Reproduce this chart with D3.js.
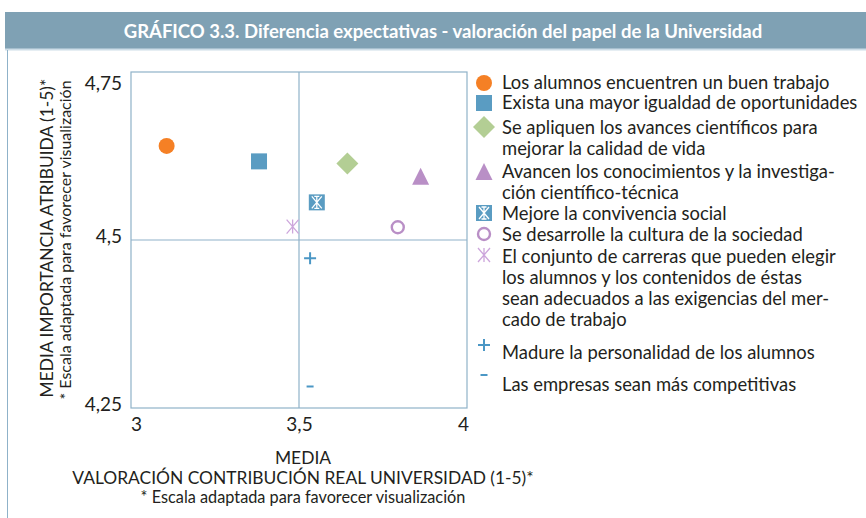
<!DOCTYPE html>
<html>
<head>
<meta charset="utf-8">
<script src="https://cdn.jsdelivr.net/npm/d3@7"></script>
<style>
  body { margin: 0; background: #fff; }
  svg text { font-family: Lato, "Open Sans", sans-serif; fill: #231f20; }
</style>
</head>
<body>
<div id="chart"></div>
<script>
// categories (legend lines as they are broken in the original)
const categories = [
  ['Los alumnos encuentren un buen trabajo'],
  ['Exista una mayor igualdad de oportunidades'],
  ['Se apliquen los avances científicos para', 'mejorar la calidad de vida'],
  ['Avancen los conocimientos y la investiga-', 'ción científico-técnica'],
  ['Mejore la convivencia social'],
  ['Se desarrolle la cultura de la sociedad'],
  ['El conjunto de carreras que pueden elegir', 'los alumnos y los contenidos de éstas', 'sean adecuados a las exigencias del mer-', 'cado de trabajo'],
  ['Madure la personalidad de los alumnos'],
  ['Las empresas sean más competitivas']
];

// valoración contribución real (x) / importancia atribuida (y)
const xValues = [3.106, 3.381, 3.644, 3.862, 3.553, 3.794, 3.481, 3.533, 3.533];
const yValues = [4.640, 4.617, 4.614, 4.594, 4.556, 4.519, 4.520, 4.473, 4.282];

const xTicks = [3, 3.5, 4];
const yTicks = [4.25, 4.5, 4.75];

const title = 'GRÁFICO 3.3. Diferencia expectativas - valoración del papel de la Universidad';

//////////////////////////////////////////////////////////////

const width = 866;
const height = 518;

const markers = ['circle', 'square', 'diamond', 'triangle', 'boxx', 'ring', 'star', 'plus', 'minus'];
const colors = ['#f58025', '#5a9cc2', '#b3ce94', '#b98fc6', '#5a9cc2', '#b98fc6', '#cda6dc', '#4b97c5', '#4b97c5'];

const x = d3.scaleLinear().domain([3, 4]).range([131, 467]);
const y = d3.scaleLinear().domain([4.25, 4.75]).range([408, 72]);
const fmt = (d) => String(d).replace('.', ',');

const svg = d3.select('#chart').append('svg')
  .attr('width', width)
  .attr('height', height);

// header bar
svg.append('rect')
  .attr('x', 5).attr('y', 12)
  .attr('width', width - 5).attr('height', 37)
  .attr('fill', '#7fa1b4');
svg.append('line')
  .attr('x1', 5).attr('x2', width)
  .attr('y1', 49.5).attr('y2', 49.5)
  .attr('stroke', '#cddde7').attr('stroke-width', 2);
svg.append('text')
  .attr('x', 443).attr('y', 37.5)
  .attr('text-anchor', 'middle')
  .style('font-size', '18.5px')
  .style('font-weight', 'bold')
  .style('fill', '#fff')
  .text(title);

// frame left edge
svg.append('line')
  .attr('x1', 7.5).attr('x2', 7.5)
  .attr('y1', 50).attr('y2', height)
  .attr('stroke', '#8fb2c9');

// plot box + cross
const axisColor = '#8fb2c9';
const plot = svg.append('g');
plot.append('rect')
  .attr('x', x(3)).attr('y', y(4.75))
  .attr('width', x(4) - x(3)).attr('height', y(4.25) - y(4.75))
  .attr('fill', 'none').attr('stroke', axisColor).attr('stroke-width', 1.2);
plot.append('line')
  .attr('x1', x(3.5)).attr('x2', x(3.5))
  .attr('y1', y(4.75)).attr('y2', y(4.25))
  .attr('stroke', axisColor).attr('stroke-width', 1.2);
plot.append('line')
  .attr('x1', x(3)).attr('x2', x(4))
  .attr('y1', y(4.5)).attr('y2', y(4.5))
  .attr('stroke', axisColor).attr('stroke-width', 1.2);

// axes (labels only)
const xAxis = svg.append('g')
  .attr('transform', `translate(0, ${y(4.25)})`)
  .call(d3.axisBottom(x).tickValues(xTicks).tickFormat(fmt).tickSize(0).tickPadding(10));
xAxis.select('.domain').remove();
xAxis.selectAll('text')
  .style('font-size', '19px')
  .attr('dx', (d) => d === 3 ? 5 : d === 4 ? -4 : 0);

const yAxis = svg.append('g')
  .attr('transform', `translate(${x(3)}, 0)`)
  .call(d3.axisLeft(y).tickValues(yTicks).tickFormat(fmt).tickSize(0).tickPadding(9));
yAxis.select('.domain').remove();
yAxis.selectAll('text')
  .style('font-size', '19px')
  .attr('dy', (d) => d === 4.75 ? '0.9em' : '0.15em');

// axis titles
svg.append('text')
  .attr('x', 303).attr('y', 464)
  .attr('text-anchor', 'middle')
  .style('font-size', '17.4px')
  .text('MEDIA');
svg.append('text')
  .attr('x', 303).attr('y', 484)
  .attr('text-anchor', 'middle')
  .style('font-size', '17.4px')
  .text('VALORACIÓN CONTRIBUCIÓN REAL UNIVERSIDAD (1-5)*');
svg.append('text')
  .attr('x', 303).attr('y', 503)
  .attr('text-anchor', 'middle')
  .style('font-size', '16.3px')
  .text('* Escala adaptada para favorecer visualización');

svg.append('text')
  .attr('transform', 'translate(53, 238) rotate(-90)')
  .attr('text-anchor', 'middle')
  .style('font-size', '17.4px')
  .text('MEDIA IMPORTANCIA ATRIBUIDA (1-5)*');
svg.append('text')
  .attr('transform', 'translate(70.5, 240) rotate(-90)')
  .attr('text-anchor', 'middle')
  .style('font-size', '16px')
  .text('* Escala adaptada para favorecer visualización');

// marker drawing
function drawMarker(g, type, color) {
  const s = 8;
  if (type === 'circle') {
    g.append('circle').attr('r', 8).attr('fill', color);
  } else if (type === 'square') {
    g.append('rect').attr('x', -s).attr('y', -s).attr('width', 2 * s).attr('height', 2 * s).attr('fill', color);
  } else if (type === 'diamond') {
    g.append('path').attr('d', 'M0,-11L11,0L0,11L-11,0Z').attr('fill', color);
  } else if (type === 'triangle') {
    g.append('path').attr('d', 'M0,-9L8.5,8L-8.5,8Z').attr('fill', color);
  } else if (type === 'boxx') {
    g.append('rect').attr('x', -s).attr('y', -s).attr('width', 2 * s).attr('height', 2 * s).attr('fill', color);
    g.append('path')
      .attr('d', 'M-5,-6L5,6M5,-6L-5,6M0,-6L0,6M-2.5,-6L2.5,-6M-2.5,6L2.5,6')
      .attr('stroke', '#fff').attr('stroke-width', 1.3).attr('fill', 'none');
  } else if (type === 'ring') {
    g.append('circle').attr('r', 6).attr('fill', '#fff').attr('stroke', color).attr('stroke-width', 2.4);
  } else if (type === 'star') {
    g.append('path')
      .attr('d', 'M-6,-7L6,7M6,-7L-6,7M0,-7L0,7')
      .attr('stroke', color).attr('stroke-width', 1.3).attr('fill', 'none');
  } else if (type === 'plus') {
    g.append('path')
      .attr('d', 'M-6,0L6,0M0,-6L0,6')
      .attr('stroke', color).attr('stroke-width', 2).attr('fill', 'none');
  } else if (type === 'minus') {
    g.append('path')
      .attr('d', 'M-3.5,0L3.5,0')
      .attr('stroke', color).attr('stroke-width', 2).attr('fill', 'none');
  }
}

// points
categories.forEach((c, i) => {
  const g = svg.append('g')
    .attr('class', 'point')
    .attr('transform', `translate(${x(xValues[i])}, ${y(yValues[i])})`);
  drawMarker(g, markers[i], colors[i]);
});

// legend
const legendY = [83, 103, 128, 172, 214, 235, 257, 353, 385];
const markerDy = [0, 0, -1, 0, -1, -1, -2, -8, -10];
const lineH = 21;
const legend = svg.append('g').attr('class', 'legend');
categories.forEach((lines, i) => {
  const m = legend.append('g')
    .attr('transform', `translate(484, ${legendY[i] + markerDy[i]})`);
  drawMarker(m, markers[i], colors[i]);
  lines.forEach((t, j) => {
    legend.append('text')
      .attr('x', 502)
      .attr('y', legendY[i] + j * lineH + 6)
      .style('font-size', '18.4px')
      .text(t);
  });
});
</script>
</body>
</html>
